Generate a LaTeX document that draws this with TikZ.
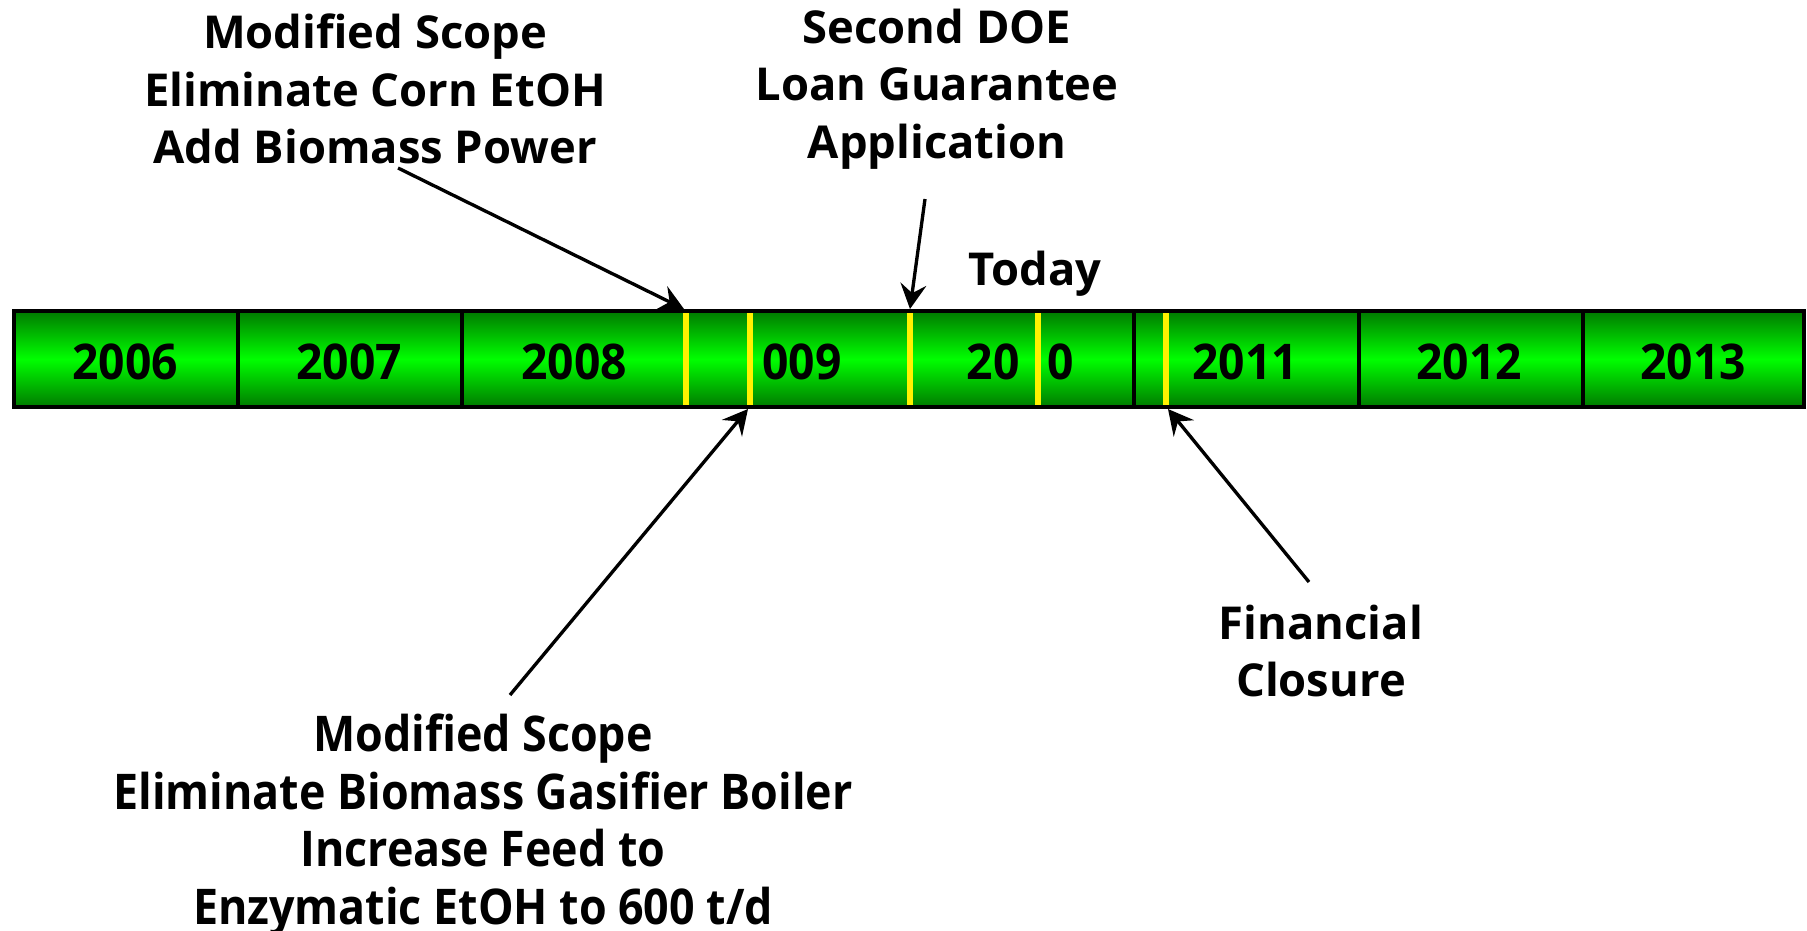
\documentclass[tikz,border=0pt]{standalone}
\usepackage{fontspec}
\setmainfont{Open Sans}
\newfontfamily\narrowfont[FakeStretch=0.91]{Open Sans}
\newfontfamily\yearfont[FakeStretch=0.94]{Open Sans}
\usetikzlibrary{arrows.meta}
\definecolor{bardark}{RGB}{0,122,0}
\definecolor{barlight}{RGB}{0,255,0}
\tikzset{
  pointer/.style={line width=0.95pt, -{Stealth[length=2.5mm, width=2.6mm, inset=0.9mm]}},
  note/.style={align=center, font=\fontsize{12.9}{16.4}\selectfont\bfseries, inner sep=0pt},
  narrownote/.style={align=center, font=\fontsize{14}{16.4}\selectfont\narrowfont\bfseries, inner sep=0pt},
  yearlabel/.style={font=\fontsize{14}{16}\selectfont\yearfont\bfseries, inner sep=0pt}
}
\begin{document}
\begin{tikzpicture}[x=0.1mm, y=-0.1mm]
    \useasboundingbox (0,0) rectangle (1807,931);

    % Bar
    \path[top color=bardark, bottom color=bardark, middle color=barlight] (14,311) rectangle (1804,407);
    \foreach \x in {238,462,686,910,1134,1359,1583} \draw[line width=1.1pt] (\x,311) -- (\x,407);
    \draw[line width=1.2pt] (14,311) rectangle (1804,407);

    % Years
    \node[yearlabel] (y2006) at (125,362) {2006};
    \node[yearlabel] (y2007) at (349,362) {2007};
    \node[yearlabel] (y2008) at (574,362) {2008};
    \node[yearlabel] (y2009) at (802,362) {009};
    \node[yearlabel] (y2010a) at (993,362) {20};
    \node[yearlabel] (y2010b) at (1061,362) {0};
    \node[yearlabel] (y2011) at (1245,362) {2011};
    \node[yearlabel] (y2012) at (1469,362) {2012};
    \node[yearlabel] (y2013) at (1693,362) {2013};

    % Markers
    \foreach \x in {686,750,910,1038,1166} \draw[yellow, line width=1.6pt] (\x,313) -- (\x,405);
    \coordinate (m1) at (684,309);
    \coordinate (m2) at (748,409);
    \coordinate (m3) at (910,309);
    \coordinate (m4) at (1168,409);

    % Labels
    \node[note] (scopeone) at (375,89) {Modified Scope\\Eliminate Corn EtOH\\Add Biomass Power};
    \node[note] (doe) at (937,89) {Second DOE\\Loan Guarantee\\Application};
    \node[note] (today) at (1035,274) {Today};
    \node[narrownote] (scopetwo) at (483,825) {Modified Scope\\Eliminate Biomass Gasifier Boiler\\Increase Feed to\\Enzymatic EtOH to 600 t/d};
    \node[note] (closure) at (1321,651) {Financial\\Closure};

    % Arrows
    \coordinate (t1) at (398,168);
    \coordinate (t2) at (925,199);
    \coordinate (t3) at (510,695);
    \coordinate (t4) at (1309,582);
    \draw[pointer] (t1) -- (m1);
    \draw[pointer] (t2) -- (m3);
    \draw[pointer] (t3) -- (m2);
    \draw[pointer] (t4) -- (m4);
\end{tikzpicture}
\end{document}
